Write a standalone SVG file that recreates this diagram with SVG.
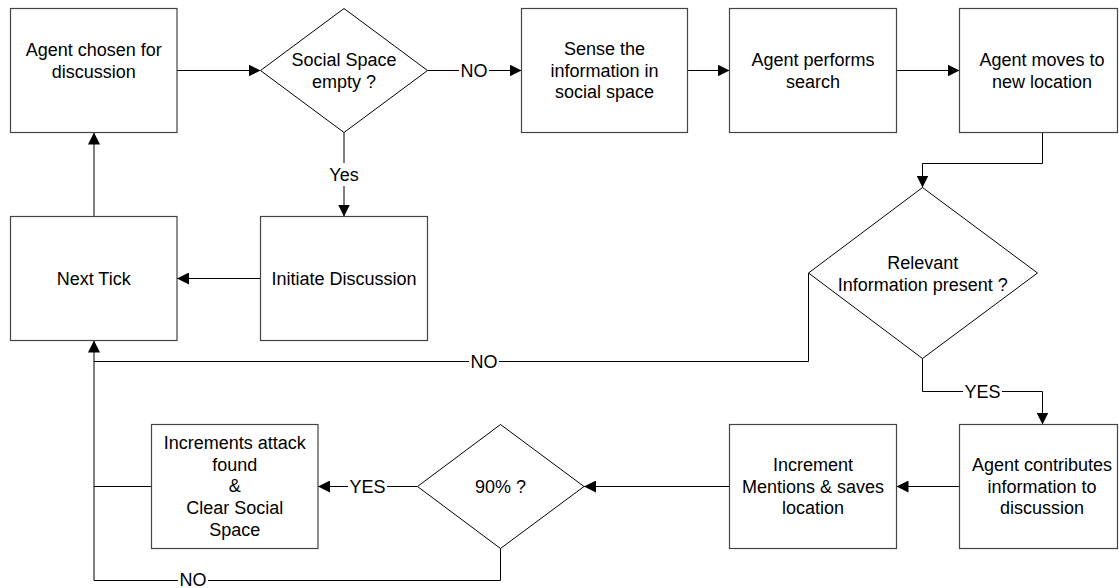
<svg xmlns="http://www.w3.org/2000/svg" width="1119" height="588" viewBox="0 0 1119 588">
<style>
.box{fill:#fff;stroke:#444;stroke-width:1.2}
.dia{fill:#fff;stroke:#000;stroke-width:1}
.c{fill:none;stroke:#000;stroke-width:1}
.a{marker-end:url(#ah)}
text{font-family:"Liberation Sans",Arial,sans-serif;font-size:18px;fill:#000;text-anchor:middle}
</style>
<defs>
<marker id="ah" markerUnits="userSpaceOnUse" markerWidth="12" markerHeight="12" refX="12" refY="6" orient="auto">
<path d="M0,0 L12,6 L0,12 z" fill="#000"/>
</marker>
</defs>
<rect width="1119" height="588" fill="#fff"/>
<g id="connectors">
<path class="c a" d="M177,70.5 H260.5"/>
<path class="c" d="M427.5,70.5 H459"/>
<path class="c a" d="M489,70.5 H521.5"/>
<text x="474" y="77">NO</text>
<path class="c a" d="M687.5,70.5 H729.5"/>
<path class="c a" d="M896.5,70.5 H959.5"/>
<path class="c a" d="M1042.5,132.5 V163.5 H922.5 V187.5"/>
<path class="c" d="M344,132.5 V163"/>
<path class="c a" d="M344,186 V216.5"/>
<text x="344" y="181">Yes</text>
<path class="c a" d="M260.5,278.5 H177"/>
<path class="c a" d="M94,216.5 V132.5"/>
<path class="c" d="M808.5,273 V361.5 H499"/>
<path class="c" d="M469,361.5 H94"/>
<text x="484" y="368">NO</text>
<path class="c" d="M922.5,358.5 V391.5 H963"/>
<path class="c a" d="M1002,391.5 H1042.5 V424.5"/>
<text x="982.5" y="398">YES</text>
<path class="c a" d="M959.5,486.5 H896.5"/>
<path class="c a" d="M729.5,486.5 H584"/>
<path class="c" d="M417.5,486.5 H387"/>
<path class="c a" d="M348,486.5 H318"/>
<text x="367.5" y="493">YES</text>
<path class="c" d="M151.5,486.5 H94"/>
<path class="c" d="M500.5,548.5 V580.5 H208"/>
<path class="c a" d="M178,580.5 H94 V340.5"/>
<text x="193" y="586">NO</text>
</g>
<g id="n_agent_chosen">
<rect class="box" x="10.5" y="8.5" width="166.5" height="124"/>
<text x="93.7" y="56">Agent chosen for</text>
<text x="93.7" y="77.5">discussion</text>
</g>
<g id="n_social_empty">
<polygon class="dia" points="260.5,70.5 344,8.5 427.5,70.5 344,132.5"/>
<text x="344" y="65.5">Social Space</text>
<text x="344" y="88">empty ?</text>
</g>
<g id="n_sense">
<rect class="box" x="521.5" y="8.5" width="166" height="124"/>
<text x="604.5" y="55">Sense the</text>
<text x="604.5" y="76.7">information in</text>
<text x="604.5" y="98.4">social space</text>
</g>
<g id="n_search">
<rect class="box" x="729.5" y="8.5" width="167" height="124"/>
<text x="813" y="66">Agent performs</text>
<text x="813" y="87.7">search</text>
</g>
<g id="n_moves">
<rect class="box" x="959.5" y="8.5" width="158" height="124"/>
<text x="1042" y="66">Agent moves to</text>
<text x="1042" y="87.7">new location</text>
</g>
<g id="n_next_tick">
<rect class="box" x="10.5" y="216.5" width="166.5" height="124"/>
<text x="93.7" y="284.5">Next Tick</text>
</g>
<g id="n_initiate">
<rect class="box" x="260.5" y="216.5" width="167" height="124"/>
<text x="344" y="284.5">Initiate Discussion</text>
</g>
<g id="n_relevant">
<polygon class="dia" points="808.5,273 922.5,187.5 1037.5,273 922.5,358.5"/>
<text x="922.7" y="269">Relevant</text>
<text x="922.7" y="290.5">Information present ?</text>
</g>
<g id="n_contributes">
<rect class="box" x="959.5" y="424.5" width="158" height="124"/>
<text x="1042" y="471">Agent contributes</text>
<text x="1042" y="492.7">information to</text>
<text x="1042" y="514.4">discussion</text>
</g>
<g id="n_mentions">
<rect class="box" x="729.5" y="424.5" width="167" height="124"/>
<text x="813" y="471">Increment</text>
<text x="813" y="492.7">Mentions &amp; saves</text>
<text x="813" y="514.4">location</text>
</g>
<g id="n_ninety">
<polygon class="dia" points="417.5,486.5 500.5,424.5 584,486.5 500.5,548.5"/>
<text x="500.5" y="493">90% ?</text>
</g>
<g id="n_increments">
<rect class="box" x="151.5" y="424.5" width="166.5" height="124"/>
<text x="234.7" y="449">Increments attack</text>
<text x="234.7" y="470.7">found</text>
<text x="234.7" y="492.4">&amp;</text>
<text x="234.7" y="514.1">Clear Social</text>
<text x="234.7" y="535.8">Space</text>
</g>
</svg>
